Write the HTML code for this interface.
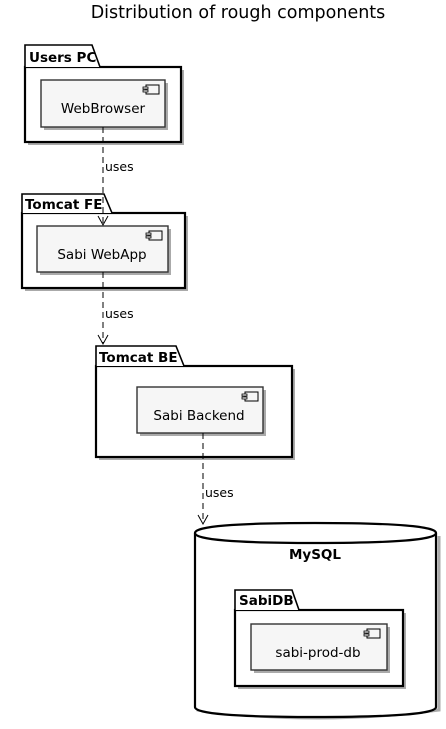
<!DOCTYPE html>
<html><head><style>html,body{margin:0;padding:0;background:#fff}svg{display:block}</style></head>
<body>
<svg width="446" height="729" viewBox="0 0 446 729" xmlns="http://www.w3.org/2000/svg" font-family="'DejaVu Sans','Liberation Sans',sans-serif">
<text x="238" y="18" font-size="17.5" text-anchor="middle" fill="#000">Distribution of rough components</text>

<!-- Users PC -->
<g>
<rect x="28" y="70" width="156" height="75" fill="#aaa"/>
<rect x="25" y="67" width="156" height="75" fill="#fff" stroke="#000" stroke-width="2.2"/>
<path d="M25 67 V45 H92 L100 67" fill="#fff" stroke="#000" stroke-width="1.6"/>
<text x="29" y="62" font-size="13.5" font-weight="bold">Users PC</text>
<rect x="44" y="83" width="124" height="47" fill="#aaa"/>
<rect x="41" y="80" width="124" height="47" fill="#f6f6f6" stroke="#333" stroke-width="1.4"/>
<rect x="146" y="85" width="13" height="9" fill="#f6f6f6" stroke="#000"/><rect x="143" y="87" width="5" height="2" fill="#f6f6f6" stroke="#000" stroke-width=".8"/><rect x="143" y="90" width="5" height="2" fill="#f6f6f6" stroke="#000" stroke-width=".8"/>
<text x="103" y="113" font-size="13.5" text-anchor="middle">WebBrowser</text>
</g>

<!-- Tomcat FE -->
<g>
<rect x="25" y="216" width="163" height="75" fill="#aaa"/>
<rect x="22" y="213" width="163" height="75" fill="#fff" stroke="#000" stroke-width="2.2"/>
<path d="M22 213 V194 H104 L112 213" fill="#fff" stroke="#000" stroke-width="1.6"/>
<text x="25" y="209" font-size="13.5" font-weight="bold">Tomcat FE</text>
<rect x="40" y="229" width="131" height="46" fill="#aaa"/>
<rect x="37" y="226" width="131" height="46" fill="#f6f6f6" stroke="#333" stroke-width="1.4"/>
<rect x="149" y="231" width="13" height="9" fill="#f6f6f6" stroke="#000"/><rect x="146" y="233" width="5" height="2" fill="#f6f6f6" stroke="#000" stroke-width=".8"/><rect x="146" y="236" width="5" height="2" fill="#f6f6f6" stroke="#000" stroke-width=".8"/>
<text x="102" y="259" font-size="13.5" text-anchor="middle">Sabi WebApp</text>
</g>

<!-- Tomcat BE -->
<g>
<rect x="99" y="369" width="196" height="91" fill="#aaa"/>
<rect x="96" y="366" width="196" height="91" fill="#fff" stroke="#000" stroke-width="2.2"/>
<path d="M96 366 V346 H176 L184 366" fill="#fff" stroke="#000" stroke-width="1.6"/>
<text x="99" y="362" font-size="13.5" font-weight="bold">Tomcat BE</text>
<rect x="140" y="390" width="126" height="46" fill="#aaa"/>
<rect x="137" y="387" width="126" height="46" fill="#f6f6f6" stroke="#333" stroke-width="1.4"/>
<rect x="245" y="392" width="13" height="9" fill="#f6f6f6" stroke="#000"/><rect x="242" y="394" width="5" height="2" fill="#f6f6f6" stroke="#000" stroke-width=".8"/><rect x="242" y="397" width="5" height="2" fill="#f6f6f6" stroke="#000" stroke-width=".8"/>
<text x="199" y="420" font-size="13.5" text-anchor="middle">Sabi Backend</text>
</g>

<!-- MySQL -->
<g>
<path d="M198 536 V710 Q318 726 439 710 V536" fill="none" stroke="#aaa" stroke-width="3"/>
<path d="M195 533 Q195 523 315 523 Q436 523 436 533 V707 Q436 717 315 717 Q195 717 195 707 Z" fill="#fff" stroke="#000" stroke-width="2.2"/>
<path d="M195 533 Q195 543 315 543 Q436 543 436 533" fill="none" stroke="#000" stroke-width="2.2"/>
<text x="315" y="559" font-size="13.5" font-weight="bold" text-anchor="middle">MySQL</text>
<rect x="238" y="613" width="168" height="76" fill="#aaa"/>
<rect x="235" y="610" width="168" height="76" fill="#fff" stroke="#000" stroke-width="2.2"/>
<path d="M235 610 V590 H292 L299 610" fill="#fff" stroke="#000" stroke-width="1.6"/>
<text x="239" y="605" font-size="13.5" font-weight="bold">SabiDB</text>
<rect x="254" y="627" width="136" height="46" fill="#aaa"/>
<rect x="251" y="624" width="136" height="46" fill="#f6f6f6" stroke="#333" stroke-width="1.4"/>
<rect x="367" y="629" width="13" height="9" fill="#f6f6f6" stroke="#000"/><rect x="364" y="631" width="5" height="2" fill="#f6f6f6" stroke="#000" stroke-width=".8"/><rect x="364" y="634" width="5" height="2" fill="#f6f6f6" stroke="#000" stroke-width=".8"/>
<text x="318" y="657" font-size="13.5" text-anchor="middle">sabi-prod-db</text>
</g>

<!-- edges -->
<g stroke="#000" stroke-width="1" fill="none">
<path d="M103 127 V225" stroke-dasharray="6,4"/>
<path d="M98 216 L103 225 L108 216"/>
<path d="M103 272 V344" stroke-dasharray="6,4"/>
<path d="M98 335 L103 344 L108 335"/>
<path d="M203 433 V524" stroke-dasharray="6,4"/>
<path d="M198 515 L203 524 L208 515"/>
</g>
<g font-size="12.5">
<text x="105" y="171">uses</text>
<text x="105" y="318">uses</text>
<text x="205" y="497">uses</text>
</g>
</svg>
</body></html>
